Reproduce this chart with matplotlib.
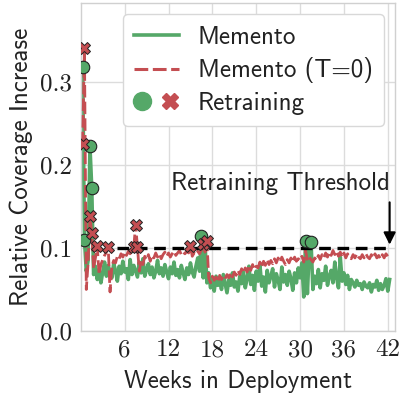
import numpy as np
import matplotlib
matplotlib.use("Agg")
import matplotlib.pyplot as plt
from matplotlib.lines import Line2D
from matplotlib.legend_handler import HandlerTuple

plt.rcParams['font.family'] = ['cmss10', 'DejaVu Sans']
plt.rcParams['axes.unicode_minus'] = False
plt.rcParams['mathtext.fontset'] = 'cm'

GREEN = '#55a868'
RED = '#c44e52'

# one sample every quarter week
step = 0.25

# Memento: relative coverage increase per sample
memento = [
    0.318, 0.110, 0.072, 0.085,
    0.223, 0.172, 0.068, 0.078,
    0.062, 0.074, 0.058, 0.071,
    0.083, 0.066, 0.079, 0.070,
    0.064, 0.081, 0.073, 0.060,
    0.078, 0.069, 0.084, 0.071,
    0.075, 0.062, 0.086, 0.068,
    0.079, 0.072, 0.065, 0.083,
    0.070, 0.087, 0.066, 0.074,
    0.081, 0.068, 0.077, 0.064,
    0.072, 0.085, 0.069, 0.076,
    0.066, 0.080, 0.071, 0.063,
    0.077, 0.069, 0.083, 0.067,
    0.074, 0.064, 0.079, 0.070,
    0.062, 0.076, 0.068, 0.082,
    0.071, 0.065, 0.078, 0.088,
    0.072, 0.115, 0.064, 0.104,
    0.058, 0.070, 0.052, 0.063,
    0.048, 0.066, 0.055, 0.061,
    0.050, 0.068, 0.057, 0.046,
    0.062, 0.055, 0.070, 0.053,
    0.059, 0.048, 0.066, 0.057,
    0.071, 0.052, 0.063, 0.078,
    0.056, 0.067, 0.049, 0.072,
    0.060, 0.080, 0.054, 0.065,
    0.047, 0.073, 0.058, 0.066,
    0.075, 0.053, 0.069, 0.061,
    0.050, 0.077, 0.059, 0.068,
    0.055, 0.072, 0.063, 0.049,
    0.070, 0.058, 0.076, 0.064,
    0.082, 0.041, 0.108, 0.045,
    0.098, 0.107, 0.050, 0.066,
    0.057, 0.074, 0.052, 0.069,
    0.061, 0.078, 0.055, 0.066,
    0.073, 0.058, 0.083, 0.064,
    0.052, 0.089, 0.060, 0.070,
    0.056, 0.067, 0.050, 0.062,
    0.058, 0.053, 0.061, 0.055,
    0.057, 0.050, 0.059, 0.054,
    0.052, 0.058, 0.047, 0.056,
    0.053, 0.061, 0.049, 0.057,
    0.050, 0.055, 0.063, 0.048,
    0.062,
]

# Memento with T=0
memento_t0 = [
    0.225, 0.341, 0.050, 0.082,
    0.138, 0.118, 0.075, 0.088,
    0.102, 0.068, 0.080, 0.086,
    0.091, 0.095, 0.101, 0.047,
    0.078, 0.085, 0.082, 0.090,
    0.087, 0.093, 0.089, 0.095,
    0.091, 0.096, 0.093, 0.097,
    0.101, 0.128, 0.101, 0.072,
    0.085, 0.080, 0.090, 0.086,
    0.092, 0.084, 0.091, 0.088,
    0.094, 0.089, 0.093, 0.087,
    0.092, 0.095, 0.090, 0.094,
    0.089, 0.093, 0.096, 0.091,
    0.094, 0.097, 0.092, 0.095,
    0.093, 0.096, 0.094, 0.102,
    0.090, 0.094, 0.092, 0.096,
    0.093, 0.098, 0.105, 0.095,
    0.109, 0.064, 0.058, 0.066,
    0.061, 0.065, 0.059, 0.067,
    0.062, 0.066, 0.063, 0.068,
    0.064, 0.070, 0.065, 0.071,
    0.067, 0.073, 0.068, 0.075,
    0.070, 0.076, 0.071, 0.079,
    0.073, 0.080, 0.074, 0.078,
    0.076, 0.083, 0.077, 0.084,
    0.079, 0.086, 0.080, 0.085,
    0.081, 0.087, 0.082, 0.088,
    0.083, 0.089, 0.084, 0.080,
    0.086, 0.082, 0.088, 0.083,
    0.089, 0.084, 0.087, 0.085,
    0.090, 0.083, 0.097, 0.085,
    0.089, 0.086, 0.083, 0.088,
    0.085, 0.091, 0.086, 0.092,
    0.088, 0.094, 0.089, 0.095,
    0.091, 0.097, 0.092, 0.096,
    0.090, 0.095, 0.089, 0.094,
    0.088, 0.093, 0.089, 0.087,
    0.092, 0.088, 0.093, 0.089,
    0.087, 0.092, 0.088, 0.093,
    0.089, 0.087, 0.092, 0.088,
    0.093, 0.088, 0.091, 0.087,
    0.092, 0.088, 0.093, 0.090,
    0.093,
]

# weeks at which a retraining was triggered
retrain_memento = [0.25, 0.5, 1.25, 1.5, 16.5, 30.75, 31.5]
retrain_t0 = [0.25, 0.5, 1.25, 1.5, 2.25, 3.75, 7.25, 7.5, 7.75, 15.0, 16.75, 17.25]

threshold = 0.1
threshold_from = 5.0
xticks = [6, 12, 18, 24, 30, 36, 42]
yticks = [0.0, 0.1, 0.2, 0.3]

memento = np.array(memento)
memento_t0 = np.array(memento_t0)
weeks = step * np.arange(1, len(memento) + 1)

idx_m = np.rint(np.array(retrain_memento) / step).astype(int) - 1
idx_t = np.rint(np.array(retrain_t0) / step).astype(int) - 1

fig = plt.figure(figsize=(4.04, 3.94), dpi=100)
ax = fig.add_axes([0.200, 0.160, 0.778, 0.832])

ax.plot(weeks, memento, color=GREEN, lw=2.6, zorder=2)
ax.plot(weeks, memento_t0, color=RED, lw=2.0, ls=(0, (4.5, 1.5)), zorder=3)

ax.plot([threshold_from, weeks[-1]], [threshold, threshold], color='black',
        lw=2.4, ls=(0, (3.5, 2)), zorder=4)

ax.plot(weeks[idx_m], memento[idx_m], 'o', color=GREEN, ms=9,
        mec='#222222', mew=0.8, zorder=5)
ax.plot(weeks[idx_t], memento_t0[idx_t], 'X', color=RED, ms=9,
        mec='#222222', mew=0.7, zorder=6)

# threshold annotation with arrow on the right
ax.annotate('', xy=(weeks[-1], threshold + 0.004), xytext=(weeks[-1], 0.155),
            arrowprops=dict(arrowstyle='-|>', color='black', lw=1.5,
                            mutation_scale=18, shrinkA=0, shrinkB=0),
            zorder=7)
ax.text(weeks[-1] + 0.1, 0.164, 'Retraining Threshold', ha='right', va='bottom',
        fontsize=18, color='#222222')

ax.set_xlim(0, 43)
ax.set_ylim(0, 0.395)
ax.set_xticks(xticks)
ax.set_yticks(yticks)
ax.set_xticklabels([str(t) for t in xticks], fontfamily='cmr10', fontsize=18)
ax.set_yticklabels(['%.1f' % t for t in yticks], fontfamily='cmr10', fontsize=18)
ax.tick_params(length=0, pad=6, colors='#222222')

ax.grid(True, color='#dcdcdc', lw=1.0)
ax.set_axisbelow(True)
for s in ax.spines.values():
    s.set_color('#d0d0d0')
    s.set_linewidth(1.0)

ax.set_xlabel('Weeks in Deployment', fontsize=18, color='#222222', labelpad=6)
ax.set_ylabel('Relative Coverage Increase', fontsize=18, color='#222222', labelpad=5)

h_m = Line2D([], [], color=GREEN, lw=2.6)
h_t = Line2D([], [], color=RED, lw=2.2, ls=(0, (4.5, 1.5)))
h_c = Line2D([], [], marker='o', ls='none', color=GREEN, ms=13, mec=GREEN)
h_x = Line2D([], [], marker='X', ls='none', color=RED, ms=12, mec=RED)
leg = ax.legend([h_m, h_t, (h_c, h_x)], ['Memento', 'Memento (T=0)', 'Retraining'],
                handler_map={tuple: HandlerTuple(ndivide=None, pad=0.45)},
                loc='upper right', fontsize=18, handlelength=1.8,
                handletextpad=0.75, borderaxespad=0.45, labelspacing=0.35,
                borderpad=0.45, framealpha=1.0, edgecolor='#d8d8d8', fancybox=True)
for t in leg.get_texts():
    t.set_color('#222222')

fig.savefig('out.png', dpi=100)
